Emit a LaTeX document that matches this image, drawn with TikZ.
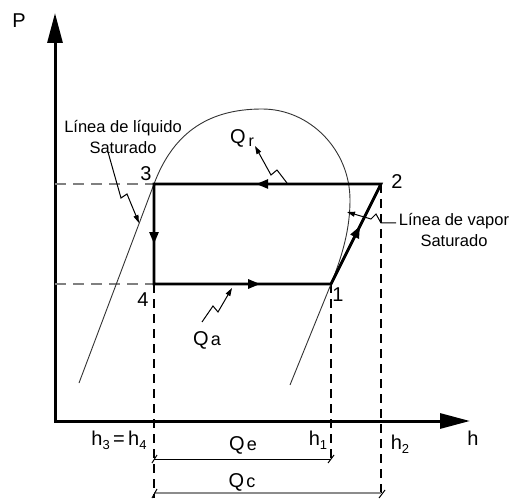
\documentclass[tikz,border=0pt]{standalone}
\usepackage{fontspec}
\setmainfont{Liberation Sans}
\usetikzlibrary{arrows.meta,decorations.markings}
\newcommand{\mysub}[1]{\raisebox{-4pt}{\fontsize{13}{13}\selectfont #1}}
\begin{document}
\begin{tikzpicture}[x=1pt,y=-1pt,
 every node/.style={inner sep=0pt, text=black},
 axisline/.style={line width=3pt, line join=miter},
 cycline/.style={line width=2.6pt, line join=miter},
 midarrow/.style={postaction={decorate}, decoration={markings, mark=at position #1 with {\arrow{Triangle[length=12pt,width=9pt]}}}},
 dome/.style={line width=0.9pt, black!80},
 vdash/.style={line width=1.3pt, dash pattern=on 9pt off 6pt},
 hdash/.style={line width=1.2pt, black!50, dash pattern=on 11pt off 7pt},
 heat/.style={line width=1pt, -{Triangle[length=8pt,width=5pt]}},
 dimline/.style={line width=1pt},
 dimgray/.style={line width=2pt, black!45},
 biglbl/.style={font=\fontsize{20}{24}\selectfont},
 smalltxt/.style={font=\fontsize{16.5}{21}\selectfont, align=center},
]
\useasboundingbox (0,0) rectangle (512,500);
% coordinates
\coordinate (O) at (55,421);
\coordinate (Ptop) at (55,13);
\coordinate (Hend) at (470,421);
\coordinate (s1) at (331,284);
\coordinate (s2) at (381,184);
\coordinate (s3) at (154,184);
\coordinate (s4) at (154,284);
\coordinate (a3) at (55,184);
\coordinate (a4) at (55,284);
\coordinate (b4) at (154,498);
\coordinate (b1) at (331,460);
\coordinate (b2) at (381,498);
\coordinate (qe1) at (154,459);
\coordinate (qe2) at (331,459);
\coordinate (qc1) at (154,493);
\coordinate (qc2) at (381,493);
% axes
\draw[axisline, {Triangle[length=30pt,width=15pt]}-{Triangle[length=30pt,width=15pt]}] (Ptop) -- (O) -- (Hend);
% dashed lines
\draw[hdash] (a3) -- (s3);
\draw[hdash] (a4) -- (s4);
\draw[vdash] (s4) -- (b4);
\draw[vdash] (s1) -- (b1);
\draw[vdash] (s2) -- (b2);
% dome
\draw[dome] (79,383) -- (s3) .. controls (172,136) and (205,109) .. (262,109)
   .. controls (310,109) and (350,150) .. (350,200)
   .. controls (350,228) and (343,254) .. (s1) -- (290,385);
% cycle
\draw[cycline] (s2) -- (s3) -- (s4) -- (s1) -- cycle;
\draw[cycline, midarrow=0.55] (s2) -- (s3);
\draw[cycline, midarrow=0.6] (s3) -- (s4);
\draw[cycline, midarrow=0.6] (s4) -- (s1);
\draw[cycline, midarrow=0.58] (s1) -- (s2);
% heat arrows
\draw[heat] (287,183) -- (277,170) -- (271,175) -- (255,146);
\draw[heat] (202,322) -- (213,306) -- (218,312) -- (232,288);
\draw[heat] (108,152) -- (121,198) -- (127,194) -- (139,223);
\draw[heat] (396,223) -- (381,223) -- (376,214) -- (371,219) -- (347,212);
% dimension lines
\draw[dimline] (qe1) -- (qe2);
\draw[dimline, shift={(qe1)}] (-2,4) -- (3,-4);
\draw[dimline, shift={(qe2)}] (-3,4) -- (3,-4);
\draw[dimgray] (qc1) -- (qc2);
\draw[dimline, shift={(qc1)}] (-2,5) -- (3,-4);
\draw[dimline, shift={(qc2)}] (-2,5) -- (4,-3);
% labels
\node[biglbl] (LP) at (19,21) {P};
\node[biglbl] (Lh) at (473,438) {h};
\node[biglbl] (L3) at (146,174) {3};
\node[biglbl] (L2) at (397,182) {2};
\node[biglbl] (L4) at (143,300) {4};
\node[biglbl] (L1) at (338,295) {1};
\node[biglbl] (Qr) at (242,138) {Q\hspace{3pt}\raisebox{-3pt}{\fontsize{16}{16}\selectfont r}};
\node[biglbl] (Qa) at (207,340) {Q\hspace{2pt}{\fontsize{18}{18}\selectfont a}};
\node[biglbl] (Qe) at (243,445) {Q\hspace{2pt}{\fontsize{18}{18}\selectfont e}};
\node[biglbl] (Qc) at (242,482) {Q\hspace{2pt}{\fontsize{18}{18}\selectfont c}};
\node[biglbl] (H34) at (119,440) {h\mysub{3}\,=\,h\mysub{4}};
\node[biglbl] (H1) at (318,440) {h\mysub{1}};
\node[biglbl] (H2) at (400,444) {h\mysub{2}};
\node[smalltxt] (liq) at (123,137) {Línea de líquido\\Saturado};
\node[smalltxt] (vap) at (454,230) {Línea de vapor\\Saturado};
\end{tikzpicture}
\end{document}
